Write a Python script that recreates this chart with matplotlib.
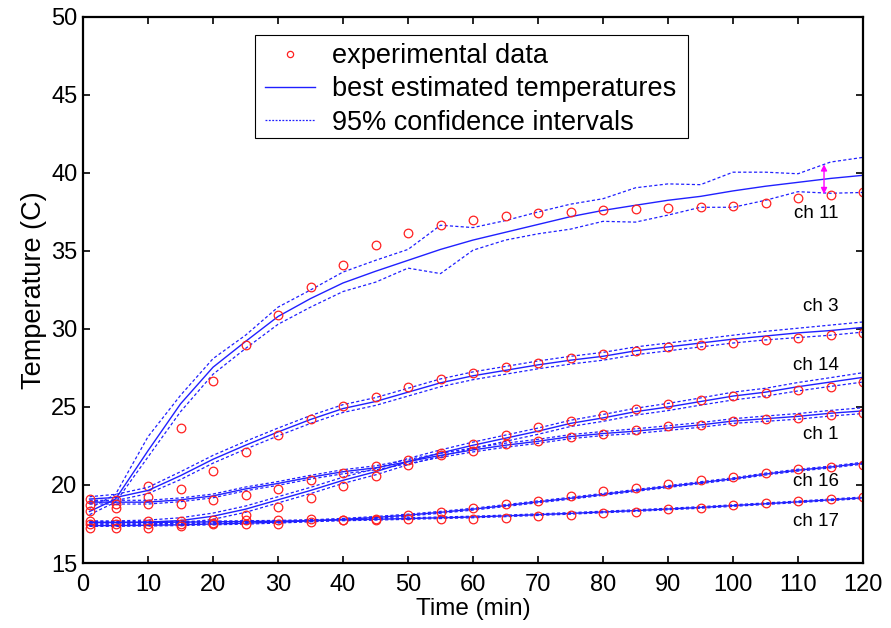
import matplotlib
matplotlib.use("Agg")
import matplotlib.pyplot as plt
from matplotlib.lines import Line2D
from matplotlib.patches import Rectangle

plt.rcParams['font.family'] = ['Liberation Sans', 'DejaVu Sans']

# time points (min)
t = [1, 5, 10, 15, 20, 25, 30, 35, 40, 45, 50, 55, 60, 65, 70, 75, 80, 85, 90, 95, 100, 105, 110, 115, 120]

# experimental data
ch11_data = [18.33, 18.53, 19.92, 23.65, 26.65, 28.95, 30.9, 32.7, 34.1, 35.4, 36.15, 36.65, 37.0, 37.25, 37.45, 37.5, 37.6, 37.7, 37.75, 37.85, 37.9, 38.1, 38.4, 38.6, 38.75]
ch3_data = [19.13, 19.06, 19.23, 19.77, 20.9, 22.12, 23.23, 24.21, 25.05, 25.65, 26.3, 26.8, 27.2, 27.55, 27.85, 28.15, 28.4, 28.6, 28.85, 29.0, 29.1, 29.3, 29.4, 29.6, 29.75]
ch14_data = [17.67, 17.67, 17.67, 17.67, 17.78, 18.06, 18.6, 19.19, 19.92, 20.6, 21.3, 22.05, 22.6, 23.2, 23.7, 24.1, 24.5, 24.85, 25.2, 25.45, 25.7, 25.9, 26.1, 26.3, 26.6]
ch1_data = [18.74, 18.8, 18.8, 18.8, 19.02, 19.34, 19.77, 20.3, 20.77, 21.2, 21.6, 21.95, 22.2, 22.6, 22.85, 23.1, 23.3, 23.5, 23.75, 23.85, 24.1, 24.2, 24.3, 24.5, 24.6]
ch16_data = [17.48, 17.48, 17.48, 17.48, 17.56, 17.74, 17.78, 17.8, 17.74, 17.85, 18.1, 18.25, 18.5, 18.75, 19.0, 19.3, 19.6, 19.8, 20.05, 20.3, 20.5, 20.75, 21.0, 21.15, 21.3]
ch17_data = [17.27, 17.27, 17.27, 17.35, 17.5, 17.48, 17.53, 17.6, 17.74, 17.75, 17.8, 17.8, 17.85, 17.9, 18.0, 18.1, 18.2, 18.3, 18.45, 18.55, 18.7, 18.85, 19.0, 19.1, 19.2]

# best estimated temperatures
ch11_est = [18.3, 19.1, 22.2, 25.2, 27.55, 29.2, 30.8, 31.95, 32.95, 33.7, 34.4, 35.1, 35.7, 36.2, 36.7, 37.2, 37.6, 37.93, 38.25, 38.5, 38.85, 39.15, 39.4, 39.65, 39.85]
ch3_est = [19.1, 19.2, 19.65, 20.6, 21.65, 22.55, 23.4, 24.2, 24.9, 25.35, 25.95, 26.55, 27.0, 27.35, 27.7, 28.0, 28.25, 28.6, 28.85, 29.1, 29.35, 29.55, 29.75, 29.9, 30.1]
ch14_est = [17.6, 17.6, 17.62, 17.72, 18.0, 18.45, 19.05, 19.65, 20.3, 20.85, 21.5, 22.05, 22.55, 23.0, 23.45, 23.95, 24.3, 24.7, 25.0, 25.35, 25.7, 25.95, 26.3, 26.6, 26.9]
ch1_est = [18.9, 18.9, 18.9, 19.05, 19.3, 19.75, 20.1, 20.5, 20.85, 21.1, 21.5, 21.9, 22.25, 22.55, 22.8, 23.1, 23.3, 23.45, 23.65, 23.85, 24.1, 24.25, 24.4, 24.6, 24.75]
ch16_est = [17.4, 17.4, 17.42, 17.45, 17.5, 17.55, 17.62, 17.7, 17.8, 17.92, 18.07, 18.25, 18.45, 18.68, 18.92, 19.15, 19.4, 19.65, 19.9, 20.15, 20.4, 20.7, 20.95, 21.15, 21.4]
ch17_est = [17.6, 17.6, 17.6, 17.62, 17.64, 17.66, 17.68, 17.72, 17.76, 17.8, 17.85, 17.9, 17.95, 18.02, 18.1, 18.18, 18.27, 18.36, 18.46, 18.56, 18.68, 18.8, 18.92, 19.05, 19.18]

# 95% confidence intervals
ch11_up = [18.5, 19.4, 23.1, 25.75, 28.1, 29.6, 31.4, 32.5, 33.65, 34.4, 35.1, 36.65, 36.5, 36.95, 37.5, 38.0, 38.35, 39.05, 39.3, 39.25, 40.05, 40.05, 39.95, 40.7, 41.0]
ch11_lo = [18.1, 18.9, 21.8, 24.7, 27.1, 28.75, 30.3, 31.4, 32.4, 33.0, 33.9, 33.55, 35.05, 35.7, 36.1, 36.4, 36.9, 36.85, 37.3, 37.8, 37.8, 38.25, 38.8, 38.7, 38.75]
ch3_up = [19.25, 19.4, 19.85, 20.85, 21.9, 22.8, 23.65, 24.45, 25.15, 25.6, 26.2, 26.8, 27.25, 27.6, 27.95, 28.25, 28.5, 28.85, 29.1, 29.35, 29.6, 29.85, 30.05, 30.25, 30.45]
ch3_lo = [18.95, 19.0, 19.45, 20.35, 21.4, 22.3, 23.15, 23.95, 24.65, 25.1, 25.7, 26.3, 26.75, 27.1, 27.45, 27.75, 28.0, 28.35, 28.6, 28.85, 29.1, 29.3, 29.45, 29.6, 29.8]
ch14_up = [17.7, 17.7, 17.75, 17.9, 18.2, 18.65, 19.25, 19.85, 20.5, 21.05, 21.7, 22.25, 22.75, 23.2, 23.65, 24.15, 24.52, 24.92, 25.23, 25.58, 25.95, 26.2, 26.57, 26.88, 27.2]
ch14_lo = [17.5, 17.5, 17.5, 17.55, 17.8, 18.25, 18.85, 19.45, 20.1, 20.65, 21.3, 21.85, 22.35, 22.8, 23.25, 23.75, 24.08, 24.48, 24.77, 25.12, 25.45, 25.7, 26.03, 26.32, 26.6]
ch1_up = [19.02, 19.02, 19.02, 19.17, 19.42, 19.87, 20.22, 20.62, 20.98, 21.23, 21.63, 22.03, 22.38, 22.68, 22.93, 23.23, 23.43, 23.6, 23.8, 24.0, 24.25, 24.42, 24.58, 24.78, 24.95]
ch1_lo = [18.78, 18.78, 18.78, 18.93, 19.18, 19.63, 19.98, 20.38, 20.72, 20.97, 21.37, 21.77, 22.12, 22.42, 22.67, 22.97, 23.17, 23.3, 23.5, 23.7, 23.95, 24.08, 24.22, 24.42, 24.58]
ch16_up = [17.45, 17.45, 17.47, 17.5, 17.55, 17.61, 17.68, 17.76, 17.86, 17.98, 18.13, 18.31, 18.51, 18.74, 18.98, 19.21, 19.46, 19.71, 19.96, 20.21, 20.46, 20.76, 21.01, 21.21, 21.46]
ch16_lo = [17.35, 17.35, 17.37, 17.4, 17.45, 17.49, 17.56, 17.64, 17.74, 17.86, 18.01, 18.19, 18.39, 18.62, 18.86, 19.09, 19.34, 19.59, 19.84, 20.09, 20.34, 20.64, 20.89, 21.09, 21.34]
ch17_up = [17.65, 17.65, 17.65, 17.67, 17.69, 17.71, 17.73, 17.77, 17.81, 17.85, 17.9, 17.95, 18.0, 18.07, 18.15, 18.23, 18.32, 18.41, 18.51, 18.61, 18.73, 18.85, 18.97, 19.1, 19.23]
ch17_lo = [17.55, 17.55, 17.55, 17.57, 17.59, 17.61, 17.63, 17.67, 17.71, 17.75, 17.8, 17.85, 17.9, 17.97, 18.05, 18.13, 18.22, 18.31, 18.41, 18.51, 18.63, 18.75, 18.87, 19.0, 19.13]

labels = ["ch 11", "ch 3", "ch 14", "ch 1", "ch 16", "ch 17"]
label_y = [37.4, 31.45, 27.67, 23.25, 20.24, 17.68]
label_x = 116.3

data_list = [ch11_data, ch3_data, ch14_data, ch1_data, ch16_data, ch17_data]
est_list = [ch11_est, ch3_est, ch14_est, ch1_est, ch16_est, ch17_est]
up_list = [ch11_up, ch3_up, ch14_up, ch1_up, ch16_up, ch17_up]
lo_list = [ch11_lo, ch3_lo, ch14_lo, ch1_lo, ch16_lo, ch17_lo]

fig = plt.figure(figsize=(8.91, 6.28), dpi=100)
ax = fig.add_axes([0.0932, 0.1035, 0.8754, 0.8695])

dash = (0, (2.5, 1.8))
for d, e, u, l in zip(data_list, est_list, up_list, lo_list):
    ax.plot(t, u, color='#2020ff', lw=0.9, linestyle=dash)
    ax.plot(t, l, color='#2020ff', lw=0.9, linestyle=dash)
    ax.plot(t, e, color='#2020ff', lw=1.0, linestyle='-')
    ax.plot(t, d, linestyle='none', marker='o', markersize=6.2,
            markerfacecolor='none', markeredgecolor='#ff2020', markeredgewidth=0.9)

for lab, ly in zip(labels, label_y):
    ax.text(label_x, ly, lab, ha='right', va='center', fontsize=13.5)

ax.annotate('', xy=(114, 38.65), xytext=(114, 40.55),
            arrowprops=dict(arrowstyle='<|-|>', color='magenta', lw=1.0,
                            mutation_scale=9, shrinkA=0, shrinkB=0))

ax.set_xlim(0, 120)
ax.set_ylim(15, 50)
ax.set_xticks(range(0, 121, 10))
ax.set_yticks(range(15, 51, 5))
ax.tick_params(direction='in', length=5, width=1.2, labelsize=17, top=True, right=True)
ax.tick_params(axis='x', pad=8)
ax.tick_params(axis='y', pad=4)
for s in ax.spines.values():
    s.set_linewidth(1.6)
ax.set_xlabel('Time (min)', fontsize=17.5, labelpad=1)
ax.set_ylabel('Temperature (C)', fontsize=19.5, labelpad=3)

# legend frame
ax.add_patch(Rectangle((0.2205, 0.7784), 0.5551, 0.1886, transform=ax.transAxes,
                       facecolor='white', edgecolor='black', lw=0.8, zorder=5))

handles = [
    Line2D([], [], linestyle='none', marker='o', markersize=4.5, markerfacecolor='none',
           markeredgecolor='#ff2020', markeredgewidth=0.9),
    Line2D([], [], color='#2020ff', lw=1.0),
    Line2D([], [], color='#2020ff', lw=0.9, linestyle=(0, (1.5, 1.2))),
]
leg = ax.legend(handles, ['experimental data', 'best estimated temperatures', '95% confidence intervals'],
                loc='upper left', bbox_to_anchor=(0.2205, 0.970), fontsize=19.5, frameon=False,
                borderpad=0.36, handlelength=1.85, handletextpad=0.62, labelspacing=0.27,
                borderaxespad=0)
leg.set_zorder(6)

fig.savefig('out.png', dpi=100)
